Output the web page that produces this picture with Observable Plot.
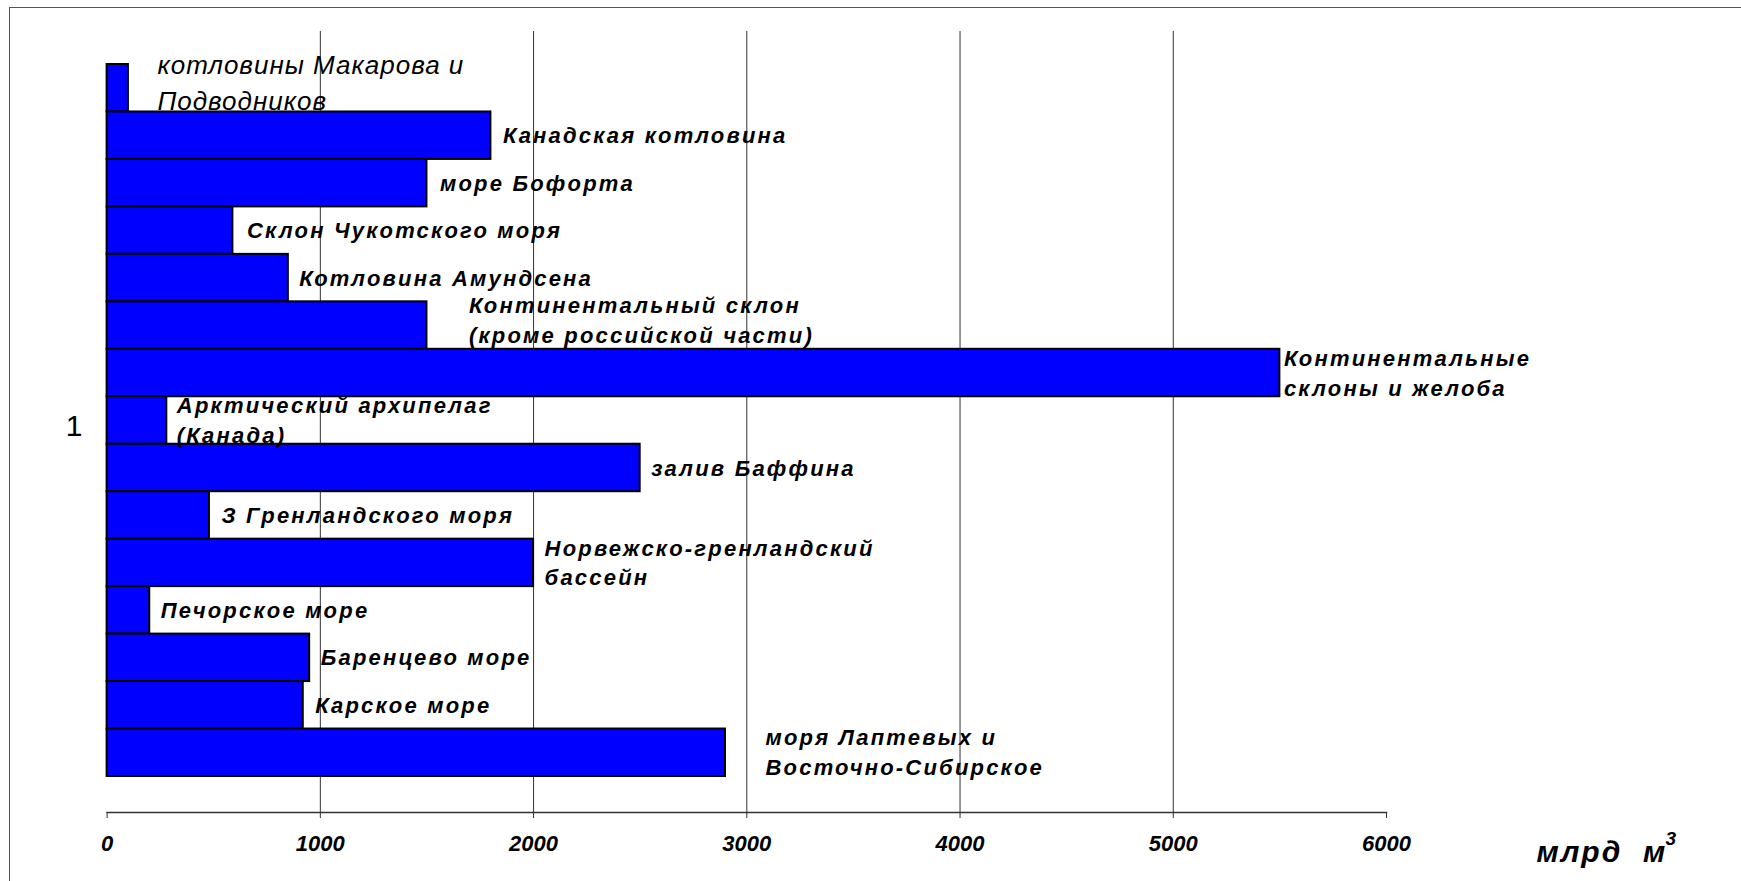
<!DOCTYPE html>
<html>
<head>
<meta charset="utf-8">
<script src="https://cdn.jsdelivr.net/npm/d3@7"></script>
<script src="https://cdn.jsdelivr.net/npm/@observablehq/plot@0.6"></script>
<style>
  html, body { margin: 0; padding: 0; background: #fff; }
  #chart { position: relative; width: 1741px; height: 881px; overflow: hidden; }
  #chart svg { position: absolute; left: 0; top: 0; }
  #chart .edge { position: absolute; background: #555; }
</style>
</head>
<body>
<div id="chart">
  <div class="edge" style="left:9px;top:7px;width:1px;height:874px"></div>
  <div class="edge" style="left:9px;top:7px;width:1732px;height:1px"></div>
</div>
<script>
// Оценка объёмов по районам Северного Ледовитого океана, млрд м³
const basins = [
  "котловины Макарова и\nПодводников",
  "Канадская котловина",
  "море Бофорта",
  "Склон Чукотского моря",
  "Котловина Амундсена",
  "Континентальный склон\n(кроме российской части)",
  "Континентальные\nсклоны и желоба",
  "Арктический архипелаг\n(Канада)",
  "залив Баффина",
  "З Гренландского моря",
  "Норвежско-гренландский\nбассейн",
  "Печорское море",
  "Баренцево море",
  "Карское море",
  "моря Лаптевых и\nВосточно-Сибирское"
];
const volumes = [100, 1800, 1500, 590, 850, 1500, 5500, 280, 2500, 480, 2000, 200, 950, 920, 2900];
const xTicks = [0, 1000, 2000, 3000, 4000, 5000, 6000];
const categoryName = "1";
const unitName = "млрд\u00a0 м";
const unitPower = "3";

// Label placement: gap (px) after the bar end, and vertical shift (px)
const labelGap = [29, 12, 13, 14, 11, 42, 4, 10, 11, 12, 11, 11, 11, 12, 40];
const labelShift = [-8, -2, -2, -2, -2, -7, -2, -2, -2, -2, -2, -2, -2, -2, -2];

const W = 1741, H = 881;
const mLeft = 106.6, mRight = 355, mTop = 31, mBottom = 69;
const unitsPerPx = (xTicks[xTicks.length - 1] - xTicks[0]) / (W - mLeft - mRight);

const rows = basins.map((name, i) => ({
  name, value: volumes[i], labelX: volumes[i] + labelGap[i] * unitsPerPx,
  shift: labelShift[i], first: i === 0
}));

const font = "'Liberation Sans', Arial, sans-serif";

// one text mark per vertical shift (dy is a constant option)
const shifts = [...new Set(rows.filter(d => !d.first).map(d => d.shift))];
const boldLabels = shifts.map(s =>
  Plot.text(rows.filter(d => !d.first && d.shift === s), {
    x: "labelX", y: "name", text: "name", textAnchor: "start", lineAnchor: "middle",
    lineHeight: 1.36, fontSize: 22, fontWeight: "bold", fontStyle: "italic", fill: "#000", dy: s
  })
);

const chart = Plot.plot({
  width: W,
  height: H,
  marginLeft: mLeft,
  marginRight: mRight,
  marginTop: mTop,
  marginBottom: mBottom,
  style: { fontFamily: font, background: "transparent", color: "#000" },
  x: { domain: [xTicks[0], xTicks[xTicks.length - 1]], axis: null },
  y: { type: "band", domain: basins, range: [64, 776], padding: 0, round: false, axis: null },
  marks: [
    Plot.ruleX(xTicks.slice(1, -1), { stroke: "#333", strokeWidth: 1 }),
    Plot.barX(rows, { x: "value", y: "name", fill: "#0000ff", stroke: "#000", strokeWidth: 2 }),
    Plot.frame({ anchor: "bottom", stroke: "#333", strokeWidth: 1.5 }),
    Plot.axisX({
      ticks: xTicks, tickSize: 6, tickPadding: 17, tickFormat: d => String(d),
      fontSize: 22, fontWeight: "bold", fontStyle: "italic", label: null, stroke: "#333"
    }),
    ...boldLabels,
    // regular italic label of the first bar
    Plot.text(rows.filter(d => d.first), {
      x: "labelX", y: "name", text: "name", textAnchor: "start", lineAnchor: "middle",
      lineHeight: 1.38, fontSize: 26, fontStyle: "italic", fill: "#000", dy: rows[0].shift,
      ariaDescription: "first-label"
    }),
    // category name on the left
    Plot.text([categoryName], {
      text: d => d, frameAnchor: "left", textAnchor: "middle", dx: -33, dy: 4,
      fontSize: 30, fill: "#000"
    }),
    // unit label
    Plot.text([unitName], {
      text: d => d, frameAnchor: "bottom-right", textAnchor: "start", lineAnchor: "middle",
      dx: 150, dy: 40, fontSize: 30, fontWeight: "bold", fontStyle: "italic", fill: "#000"
    }),
    Plot.text([unitPower], {
      text: d => d, frameAnchor: "bottom-right", textAnchor: "start", lineAnchor: "top",
      dx: 279, dy: 19, fontSize: 19, fontWeight: "bold", fontStyle: "italic", fill: "#000"
    })
  ]
});

// letter spacing of the labels
const textGroups = d3.select(chart).selectAll('g[aria-label="text"]').nodes();
const spacing = [...shifts.map(() => "2.2px"), "1px", "0px", "2px", "0px"];
textGroups.forEach((g, i) => d3.select(g).style("letter-spacing", spacing[i] || "0px"));

document.getElementById("chart").appendChild(chart);
</script>
</body>
</html>
